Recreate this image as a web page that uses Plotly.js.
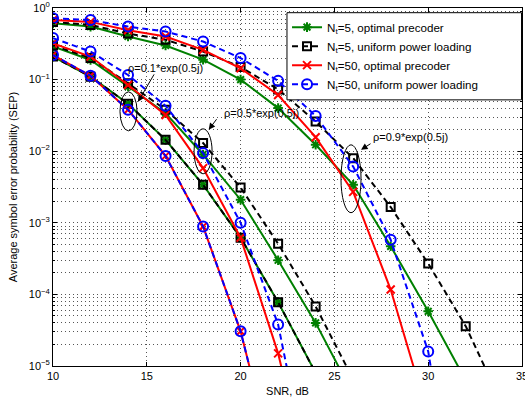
<!DOCTYPE html>
<html><head><meta charset="utf-8">
<script src="https://cdn.plot.ly/plotly-3.0.1.min.js"></script>
<style>html,body{margin:0;padding:0;background:#fff}#chart{width:525px;height:403px}</style>
</head><body><div id="chart"></div>
<script>
// SNR grid (dB)
const snr = [10, 12, 14, 16, 18, 20, 22, 24, 26, 28, 30, 32, 34];

// legend names
const seriesNames = [
  'N<sub>t</sub>=5, optimal precoder',
  'N<sub>t</sub>=5, uniform power loading',
  'N<sub>t</sub>=50, optimal precoder',
  'N<sub>t</sub>=50, uniform power loading'
];
const rhoLabels = ['ρ=0.1*exp(0.5j)', 'ρ=0.5*exp(0.5j)', 'ρ=0.9*exp(0.5j)'];

// y tick labels
const yTickVals = [1e-5, 1e-4, 1e-3, 1e-2, 1e-1, 1];
const yTickText = ['10<sup>−5</sup>', '10<sup>−4</sup>', '10<sup>−3</sup>', '10<sup>−2</sup>', '10<sup>−1</sup>', '10<sup>0</sup>'];
const xTickVals = [10, 15, 20, 25, 30, 35];

// rho = 0.1*exp(0.5j)
const nt5Opt_r01  = [0.21, 0.11, 0.046, 0.0144, 0.0034, 6.2e-4, 7.8e-5, 8e-6];
const nt5Uni_r01  = [0.21, 0.11, 0.046, 0.0144, 0.0034, 6.2e-4, 7.8e-5, 8e-6];
const nt50Opt_r01 = [0.22, 0.113, 0.038, 0.0086, 8.9e-4, 3.05e-5, 2.5e-7];
const nt50Uni_r01 = [0.22, 0.113, 0.038, 0.0086, 8.9e-4, 3.05e-5, 2.5e-7];

// rho = 0.5*exp(0.5j)
const nt5Opt_r05  = [0.29, 0.188, 0.08, 0.034, 0.009, 0.0021, 3.0e-4, 4.0e-5, 4e-6];
const nt5Uni_r05  = [0.30, 0.20, 0.089, 0.038, 0.013, 0.0031, 5.1e-4, 6.8e-5, 6.5e-6];
const nt50Opt_r05 = [0.32, 0.21, 0.084, 0.032, 0.0058, 6.2e-4, 1.5e-5, 1e-7];
const nt50Uni_r05 = [0.38, 0.246, 0.116, 0.043, 0.0094, 0.001, 3.8e-5, 1e-7];

// rho = 0.9*exp(0.5j)
const nt5Opt_r09  = [0.61, 0.55, 0.40, 0.30, 0.19, 0.10, 0.04, 0.0123, 0.0034, 4.7e-4, 5.8e-5, 6.3e-6];
const nt5Uni_r09  = [0.64, 0.58, 0.44, 0.36, 0.246, 0.15, 0.073, 0.026, 0.008, 0.00166, 2.7e-4, 3.6e-5, 2.7e-6];
const nt50Opt_r09 = [0.68, 0.64, 0.49, 0.40, 0.26, 0.144, 0.061, 0.0157, 0.0027, 1.17e-4, 2e-6];
const nt50Uni_r09 = [0.72, 0.68, 0.55, 0.47, 0.34, 0.20, 0.096, 0.031, 0.0061, 5.8e-4, 1.6e-5, 1e-8];

const styles = [
  {line: {color: '#008000', width: 2}, marker: {symbol: 'asterisk-open', size: 8, color: '#008000', line: {color: '#008000', width: 2}}},
  {line: {color: '#000000', width: 2, dash: '6px,4px'}, marker: {symbol: 'square-open', size: 8, color: '#000000', line: {color: '#000000', width: 2}}},
  {line: {color: '#ff0000', width: 2}, marker: {symbol: 'x-thin-open', size: 8, color: '#ff0000', line: {color: '#ff0000', width: 2}}},
  {line: {color: '#0000ff', width: 2, dash: '6px,4px'}, marker: {symbol: 'circle-open', size: 10, color: '#0000ff', line: {color: '#0000ff', width: 2}}}
];

const groups = [
  [nt5Opt_r01, nt5Uni_r01, nt50Opt_r01, nt50Uni_r01],
  [nt5Opt_r05, nt5Uni_r05, nt50Opt_r05, nt50Uni_r05],
  [nt5Opt_r09, nt5Uni_r09, nt50Opt_r09, nt50Uni_r09]
];

const traces = [];
groups.forEach((grp, gi) => {
  grp.forEach((ys, si) => {
    traces.push({
      type: 'scatter', mode: 'lines+markers',
      x: snr.slice(0, ys.length), y: ys,
      name: seriesNames[si], legendgroup: 's' + si,
      showlegend: gi === 2,
      legendrank: si + 1,
      line: styles[si].line, marker: styles[si].marker,
      cliponaxis: true
    });
  });
});

const gridStyle = {color: '#555', dash: '1px,3px'};

const layout = {
  width: 525, height: 403,
  margin: {l: 53, r: 3, t: 8, b: 36.5},
  paper_bgcolor: '#fff', plot_bgcolor: '#fff',
  font: {family: 'Liberation Sans, Arial, sans-serif', size: 11, color: '#000'},
  showlegend: true,
  legend: {
    x: 0.499, y: 0.987, xanchor: 'left', yanchor: 'top',
    bgcolor: 'rgba(0,0,0,0)', borderwidth: 0,
    font: {size: 11.6}, tracegroupgap: 0, traceorder: 'normal'
  },
  xaxis: {
    range: [10, 35], tickvals: xTickVals,
    ticks: 'inside', ticklen: 4, tickcolor: '#000',
    ticklabeloverflow: 'allow',
    showline: true, linecolor: '#000', linewidth: 1, mirror: 'allticks',
    showgrid: true, gridcolor: gridStyle.color, griddash: gridStyle.dash, gridwidth: 1,
    zeroline: false,
    title: {text: 'SNR, dB', font: {size: 11}, standoff: 6}
  },
  yaxis: {
    type: 'log', range: [-5, 0],
    tickvals: yTickVals, ticktext: yTickText,
    ticks: 'inside', ticklen: 4, tickcolor: '#000',
    showline: true, linecolor: '#000', linewidth: 1, mirror: 'allticks',
    showgrid: true, gridcolor: gridStyle.color, griddash: gridStyle.dash, gridwidth: 1,
    minor: {dtick: 'D1', showgrid: true, gridcolor: gridStyle.color, griddash: gridStyle.dash, gridwidth: 1, ticks: 'inside', ticklen: 2, tickcolor: '#000'},
    zeroline: false,
    title: {text: 'Average symbol error probability (SEP)', font: {size: 11}, standoff: 8}
  },
  shapes: [
    // legend box
    {type: 'rect', xref: 'paper', yref: 'paper', x0: 0.4989, x1: 0.999, y0: 0.7434, y1: 0.9869, fillcolor: '#fff', line: {color: '#000', width: 1}, layer: 'above'},
    {type: 'circle', xref: 'x', yref: 'y', x0: 13.57, x1: 14.48, y0: 0.01925, y1: 0.0674, line: {color: '#000', width: 1}},
    {type: 'circle', xref: 'x', yref: 'y', x0: 17.52, x1: 18.48, y0: 0.00484, y1: 0.02053, line: {color: '#000', width: 1}},
    {type: 'circle', xref: 'x', yref: 'y', x0: 25.35, x1: 26.42, y0: 0.001383, y1: 0.01228, line: {color: '#000', width: 1}}
  ],
  annotations: [
    {x: 16.02, y: -0.837, xref: 'x', yref: 'y', text: rhoLabels[0], showarrow: false, font: {size: 11}},
    {x: 14.53, y: -1.311, xref: 'x', yref: 'y', text: '', showarrow: true, ax: 17, ay: -29, arrowhead: 2, arrowsize: 1.3, arrowwidth: 1, arrowcolor: '#000'},
    {x: 21.09, y: -1.464, xref: 'x', yref: 'y', text: rhoLabels[1], showarrow: false, font: {size: 11}},
    {x: 18.3, y: -1.70, xref: 'x', yref: 'y', text: '', showarrow: true, ax: 9, ay: -12, arrowhead: 2, arrowsize: 1.3, arrowwidth: 1, arrowcolor: '#000'},
    {x: 29.03, y: -1.80, xref: 'x', yref: 'y', text: rhoLabels[2], showarrow: false, font: {size: 11}},
    {x: 26.42, y: -1.98, xref: 'x', yref: 'y', text: '', showarrow: true, ax: 11, ay: -7, arrowhead: 2, arrowsize: 1.3, arrowwidth: 1, arrowcolor: '#000'}
  ]
};

Plotly.newPlot('chart', traces, layout, {displayModeBar: false, staticPlot: true});
</script>
</body></html>
